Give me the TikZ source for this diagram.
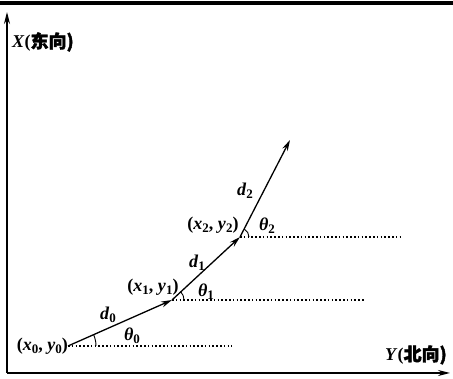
\documentclass[tikz,border=0pt]{standalone}
\usepackage{amsmath, amssymb, bm}
\usepackage{fontspec}
\setmainfont{Liberation Serif}
\newfontfamily\cjk[FakeBold=2]{Noto Sans CJK SC}
\usepackage{tikz}
\usetikzlibrary{arrows.meta, positioning, calc, angles}
\newcommand{\sym}[2]{\textit{#1}\raisebox{-0.35ex}{\fontsize{13}{14}\selectfont #2}}

\begin{document}
\begin{tikzpicture}[x=1pt, y=1pt, font=\fontsize{18}{20}\selectfont\bfseries,
    axis/.style={line width=1.5pt, -{Stealth[length=12pt, width=6pt]}},
    leg/.style={line width=1.3pt, -{Stealth[length=11pt, width=6pt]}},
    heading/.style={line width=1.2pt, dash pattern=on 1.6pt off 2.2pt},
    turn/.style={draw, line width=0.9pt}]
    \useasboundingbox (-7,-6) rectangle (446,373);
    \draw[line width=3.5pt] (-7,370) -- (446,370);
    \coordinate (O) at (0,0);
    \coordinate (xtip) at (0,361);
    \coordinate (ytip) at (443,0);
    \draw[axis] (O) -- (xtip);
    \draw[axis] (O) -- (ytip);
    \node[anchor=west, inner sep=0pt] (xlab) at (5,331) {\textit{X}(\cjk 东向)};
    \node[anchor=east, inner sep=0pt] (ylab) at (440,18) {\textit{Y}(\cjk 北向)};
    \coordinate (p0) at (61,27);
    \coordinate (p1) at (165,73);
    \coordinate (p2) at (233,136);
    \coordinate (p3) at (283,233);
    \coordinate (h0) at (225,27);
    \coordinate (h1) at (358,73);
    \coordinate (h2) at (393,136);
    \draw[heading] (p0) -- (h0);
    \draw[heading] (p1) -- (h1);
    \draw[heading] (p2) -- (h2);
    \draw[leg] (p0) -- (p1);
    \draw[leg] (p1) -- (p2);
    \draw[leg] (p2) -- (p3);
    \pic[turn, angle radius=28pt] {angle = h0--p0--p1};
    \pic[turn, angle radius=12pt] {angle = h1--p1--p2};
    \pic[turn, angle radius=9pt] {angle = h2--p2--p3};
    \node[left=0pt of p0, inner sep=0pt] (lp0) {(\sym{x}{0}, \sym{y}{0})};
    \node (lp1) at (146,86) {(\sym{x}{1}, \sym{y}{1})};
    \node (lp2) at (206,148) {(\sym{x}{2}, \sym{y}{2})};
    \node (t0) at (125,37) {\sym{θ}{0}};
    \node (t1) at (199,81) {\sym{θ}{1}};
    \node (t2) at (260,147) {\sym{θ}{2}};
    \node (d0) at (101,58) {\sym{d}{0}};
    \node (d1) at (190,110) {\sym{d}{1}};
    \node (d2) at (238,182) {\sym{d}{2}};
\end{tikzpicture}
\end{document}
